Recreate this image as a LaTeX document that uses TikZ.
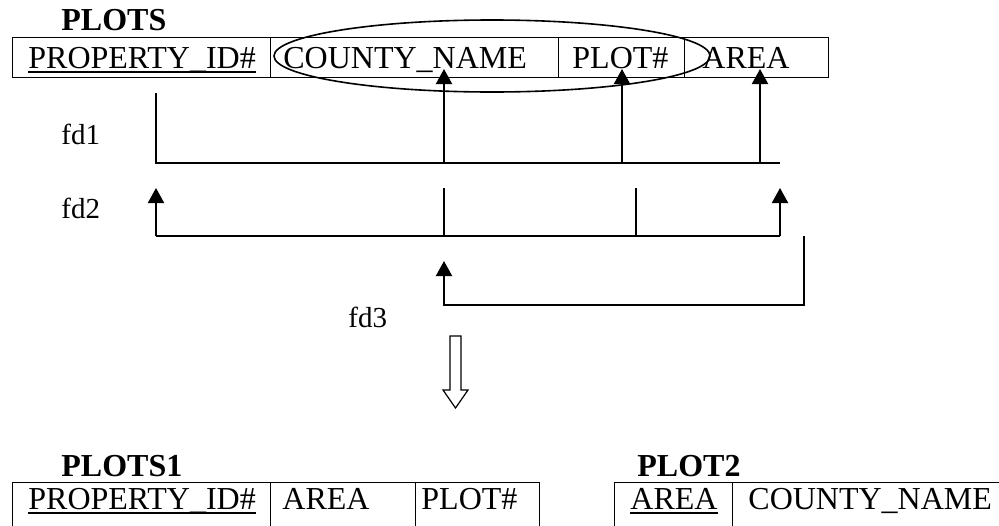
\documentclass[tikz,border=0pt]{standalone}
\usepackage{fontspec}
\setmainfont{Liberation Serif}
\usetikzlibrary{arrows.meta}
\begin{document}
\begin{tikzpicture}[x=0.5pt,y=-0.5pt,
  cell/.style={draw,line width=0.5pt,anchor=north west,inner sep=0pt,minimum height=20pt},
  bcell/.style={cell,minimum height=30pt},
  txt/.style={anchor=base west,inner sep=0pt,font=\fontsize{16}{19}\selectfont},
  ttl/.style={anchor=base west,inner sep=0pt,font=\fontsize{16}{19}\selectfont\bfseries},
  fdl/.style={anchor=base west,inner sep=0pt,font=\fontsize{14.5}{17}\selectfont},
  conn/.style={line width=1pt},
  arr/.style={conn,-{Triangle[width=8pt,length=7.5pt]}},
  uline/.style={line width=0.6pt}]
\clip (0,0) rectangle (999,525);
\fill[white] (0,0) rectangle (999,525);

% ---- top table PLOTS
\node[ttl] (tPLOTS) at (61,30) {PLOTS};
\node[cell,minimum width=129pt] (c1) at (12,37) {};
\node[cell,minimum width=144pt] (c2) at (270,37) {};
\node[cell,minimum width=63pt] (c3) at (558,37) {};
\node[cell,minimum width=72pt] (c4) at (684,37) {};
\node[txt] (t1) at (28,68) {PROPERTY\_ID\#};
\node[txt] (t2) at (283,68) {COUNTY\_NAME};
\node[txt] (t3) at (572,68) {PLOT\#};
\node[txt] (t4) at (702,68) {AREA};
\draw[uline] ([yshift=-2pt]t1.base west) -- ([yshift=-2pt]t1.base east);
\draw[line width=0.8pt] (492,56) ellipse [x radius=109pt, y radius=18pt];

% ---- fd1
\coordinate (f1s) at (156,93);
\coordinate (f1l) at (156,163);
\coordinate (f1a) at (444,163);
\coordinate (f1b) at (622,163);
\coordinate (f1c) at (760,163);
\coordinate (f1r) at (780,163);
\coordinate (f1ta) at (444,69);
\coordinate (f1tb) at (622,69);
\coordinate (f1tc) at (760,69);
\draw[conn] (f1s) -- (f1l) -- (f1r);
\draw[arr] (f1a) -- (f1ta);
\draw[arr] (f1b) -- (f1tb);
\draw[arr] (f1c) -- (f1tc);
\node[fdl] (fd1) at (61,144) {fd1};

% ---- fd2
\coordinate (f2l) at (156,236);
\coordinate (f2r) at (780,236);
\coordinate (f2tl) at (156,188);
\coordinate (f2tr) at (780,188);
\coordinate (f2a) at (444,236);
\coordinate (f2at) at (444,188);
\coordinate (f2b) at (636,236);
\coordinate (f2bt) at (636,188);
\draw[conn] (f2l) -- (f2r);
\draw[arr] (f2l) -- (f2tl);
\draw[arr] (f2r) -- (f2tr);
\draw[conn] (f2a) -- (f2at);
\draw[conn] (f2b) -- (f2bt);
\node[fdl] (fd2) at (61,218) {fd2};

% ---- fd3
\coordinate (f3s) at (804,236);
\coordinate (f3c) at (804,305);
\coordinate (f3l) at (444,305);
\coordinate (f3t) at (444,261);
\draw[arr] (f3s) -- (f3c) -- (f3l) -- (f3t);
\node[fdl] (fd3) at (348,327) {fd3};

% ---- hollow arrow
\draw[line width=0.6pt,fill=white] (450,336) -- (461,336) -- (461,390) -- (468,390) -- (455.5,408) -- (443,390) -- (450,390) -- cycle;

% ---- PLOTS1
\node[ttl] (tP1) at (61,476) {PLOTS1};
\node[bcell,minimum width=129pt] (p1a) at (12,482) {};
\node[bcell,minimum width=72.5pt] (p1b) at (270,482) {};
\node[bcell,minimum width=62pt] (p1c) at (415,482) {};
\node[txt] (s1) at (28,509) {PROPERTY\_ID\#};
\node[txt] (s2) at (282,509) {AREA};
\node[txt] (s3) at (421,509) {PLOT\#};
\draw[uline] ([yshift=-2pt]s1.base west) -- ([yshift=-2pt]s1.base east);

% ---- PLOT2
\node[ttl] (tP2) at (637,476) {PLOT2};
\node[bcell,minimum width=59pt] (p2a) at (614,482) {};
\node[bcell,minimum width=145pt] (p2b) at (732,482) {};
\node[txt] (u1) at (630,509) {AREA};
\node[txt] (u2) at (748,509) {COUNTY\_NAME};
\draw[uline] ([yshift=-2pt]u1.base west) -- ([yshift=-2pt]u1.base east);
\end{tikzpicture}
\end{document}
